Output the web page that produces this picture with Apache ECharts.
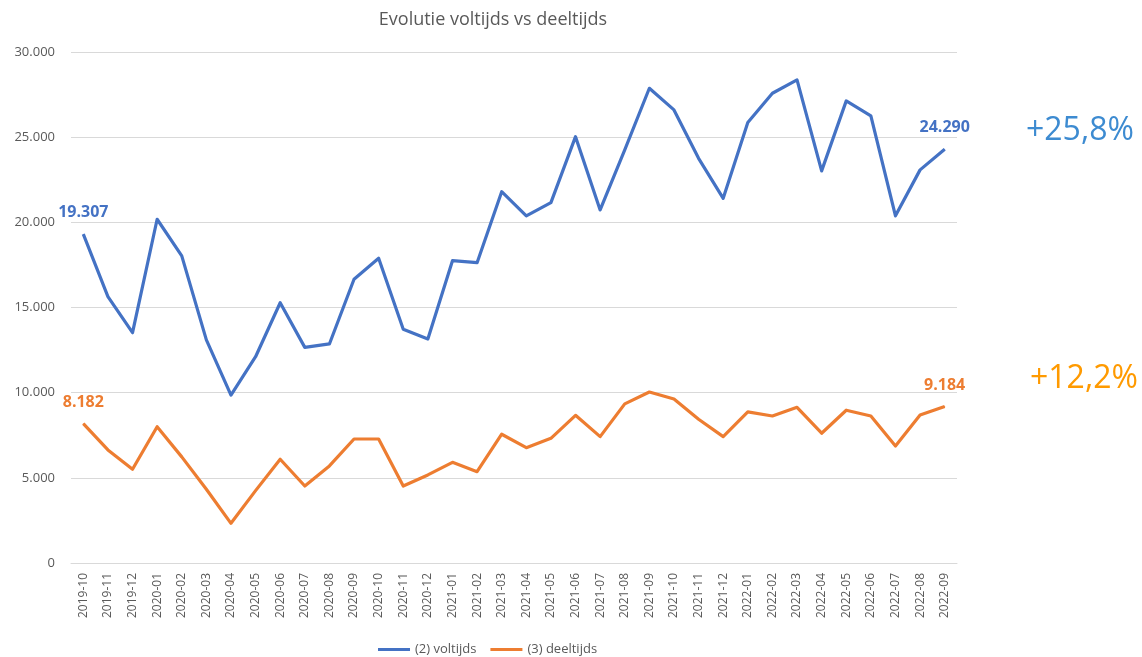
<!DOCTYPE html>
<html>
<head>
<meta charset="utf-8">
<script src="https://cdn.jsdelivr.net/npm/echarts@6/dist/echarts.min.js"></script>
<style>
  html, body { margin: 0; padding: 0; background: #fff; }
  #chart { width: 1142px; height: 657px; }
</style>
</head>
<body>
<div id="chart"></div>
<script>
// maanden
var months = ['2019-10','2019-11','2019-12','2020-01','2020-02','2020-03','2020-04','2020-05','2020-06',
  '2020-07','2020-08','2020-09','2020-10','2020-11','2020-12','2021-01','2021-02','2021-03','2021-04',
  '2021-05','2021-06','2021-07','2021-08','2021-09','2021-10','2021-11','2021-12','2022-01','2022-02',
  '2022-03','2022-04','2022-05','2022-06','2022-07','2022-08','2022-09'];

// (2) voltijds
var voltijds = [19307, 15640, 13520, 20180, 18030, 13100, 9860, 12110, 15280,
  12660, 12860, 16660, 17890, 13720, 13150, 17750, 17630, 21800, 20380,
  21160, 25030, 20730, 24250, 27870, 26600, 23760, 21410, 25860, 27580,
  28360, 23020, 27130, 26250, 20380, 23080, 24290];

// (3) deeltijds
var deeltijds = [8182, 6640, 5500, 8000, 6230, 4330, 2330, 4250, 6090,
  4520, 5700, 7280, 7280, 4520, 5170, 5910, 5360, 7560, 6770,
  7320, 8670, 7420, 9340, 10040, 9630, 8440, 7420, 8870, 8630,
  9140, 7620, 8970, 8630, 6870, 8690, 9184];

var yTicks = [0, 5000, 10000, 15000, 20000, 25000, 30000];

var blue = '#4472C4';
var orange = '#ED7D31';

function fmt(v) {
  return String(v).replace(/\B(?=(\d{3})+(?!\d))/g, '.');
}

// alleen eerste en laatste punt krijgen een label
function endLabels(arr, color) {
  return arr.map(function (v, i) {
    var d = { value: v };
    if (i === 0 || i === arr.length - 1) {
      d.label = {
        show: true, position: 'top', distance: 13,
        color: color, fontWeight: 'bold', fontSize: 16,
        fontFamily: '"Open Sans", sans-serif',
        formatter: function (p) { return fmt(p.value); }
      };
    }
    return d;
  });
}

var myChart = echarts.init(document.getElementById('chart'));

var option = {
  animation: false,
  title: {
    text: 'Evolutie voltijds vs deeltijds',
    left: 488, top: 6, textAlign: 'center',
    textStyle: { color: '#595959', fontSize: 18, fontWeight: 'normal', fontFamily: '"Open Sans", sans-serif' }
  },
  legend: {
    data: ['(2) voltijds', '(3) deeltijds'],
    left: 373, bottom: -4,
    itemWidth: 32, itemHeight: 3, itemGap: 14,
    icon: 'rect',
    textStyle: { color: '#595959', fontSize: 13, fontFamily: '"Open Sans", sans-serif' }
  },
  grid: { left: 71, right: 185, top: 52, bottom: 94 },
  xAxis: {
    type: 'category',
    data: months,
    boundaryGap: true,
    axisLine: { lineStyle: { color: '#d9d9d9' } },
    axisTick: { show: false },
    axisLabel: { rotate: 90, color: '#595959', fontSize: 12, margin: 10, interval: 0, fontFamily: '"Open Sans", sans-serif' }
  },
  yAxis: {
    type: 'value',
    min: 0, max: 30000, interval: 5000,
    axisLine: { show: false },
    axisTick: { show: false },
    splitLine: { lineStyle: { color: '#d9d9d9', width: 1 } },
    axisLabel: {
      color: '#595959', fontSize: 13, margin: 16, fontFamily: '"Open Sans", sans-serif',
      formatter: function (v) { return yTicks.indexOf(v) >= 0 ? fmt(v) : ''; }
    }
  },
  series: [{
    name: '(2) voltijds',
    type: 'line',
    data: endLabels(voltijds, blue),
    symbol: 'circle',
    symbolSize: 1,
    showSymbol: true,
    lineStyle: { color: blue, width: 3.2, join: 'round' },
    itemStyle: { color: blue }
  }, {
    name: '(3) deeltijds',
    type: 'line',
    data: endLabels(deeltijds, orange),
    symbol: 'circle',
    symbolSize: 1,
    showSymbol: true,
    lineStyle: { color: orange, width: 3.2, join: 'round' },
    itemStyle: { color: orange }
  }],
  graphic: [{
    type: 'text', left: 1026, top: 115,
    style: { text: '+25,8%', fill: '#3D8BD1', fontSize: 32, fontFamily: '"Open Sans", sans-serif' }
  }, {
    type: 'text', left: 1030, top: 363,
    style: { text: '+12,2%', fill: '#FF9A00', fontSize: 32, fontFamily: '"Open Sans", sans-serif' }
  }]
};

myChart.setOption(option);
</script>
</body>
</html>
